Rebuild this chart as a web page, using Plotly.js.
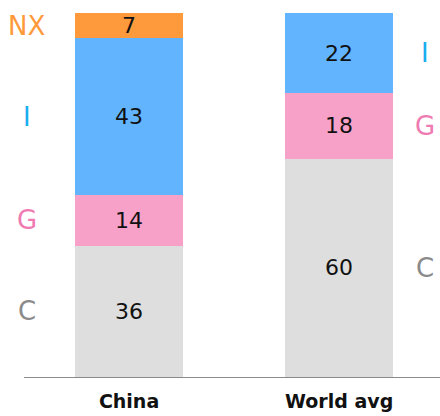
<!DOCTYPE html>
<html>
<head>
<meta charset="utf-8">
<script src="https://cdn.plot.ly/plotly-3.0.1.min.js"></script>
<style>
  html, body { margin: 0; padding: 0; background: #fff; }
  #chart { width: 440px; height: 416px; }
</style>
</head>
<body>
<div id="chart"></div>
<script>
// GDP composition by expenditure component (% of GDP)
const categories = ['China', 'World avg'];
const components = ['C', 'G', 'I', 'NX'];
const valuesC  = [36, 60];
const valuesG  = [14, 18];
const valuesI  = [43, 22];
const valuesNX = [7, null];

const series = [valuesC, valuesG, valuesI, valuesNX];
const barColors   = ['#DEDEDE', '#F7A1C9', '#62B4FF', '#FF9A3C'];
const labelColors = ['#8A8A8A', '#F07AB2', '#1AAFEF', '#FF9A3C'];

const traces = components.map((name, k) => ({
  type: 'bar',
  name: name,
  x: categories,
  y: series[k],
  marker: { color: barColors[k], line: { width: 0 } },
  hoverinfo: 'name+y'
}));

// Value labels centred in each segment, and component names beside the bars
const annotations = [];
categories.forEach((cat, i) => {
  let base = 0;
  series.forEach((vals, k) => {
    const v = vals[i];
    if (v == null) return;
    const mid = base + v / 2;
    annotations.push({
      x: cat, y: mid, xref: 'x', yref: 'y',
      text: String(v), showarrow: false,
      font: { family: 'DejaVu Sans', size: 22, color: '#111' }
    });
    annotations.push({
      x: i === 0 ? -0.486 : 1.409, y: mid, xref: 'x', yref: 'y',
      text: components[k], showarrow: false,
      font: { family: 'DejaVu Sans', size: 26, color: labelColors[k] }
    });
    base += v;
  });
});

const layout = {
  width: 440, height: 416,
  margin: { l: 24, r: 0, t: 13, b: 39, pad: 0 },
  paper_bgcolor: '#fff', plot_bgcolor: '#fff',
  barmode: 'stack',
  bargap: 0.486,
  showlegend: false,
  xaxis: {
    type: 'category', range: [-0.5, 1.48],
    showline: true, linecolor: '#8A8A8A', linewidth: 1.3,
    showgrid: false, zeroline: false,
    ticks: 'outside', ticklen: 7, tickcolor: 'rgba(0,0,0,0)',
    tickfont: { family: 'DejaVu Sans', size: 19, color: '#111', weight: 'bold' }
  },
  yaxis: {
    range: [0, 100], visible: false, showgrid: false, zeroline: false
  },
  annotations: annotations
};

Plotly.newPlot('chart', traces, layout, { displayModeBar: false, staticPlot: true });
</script>
</body>
</html>
